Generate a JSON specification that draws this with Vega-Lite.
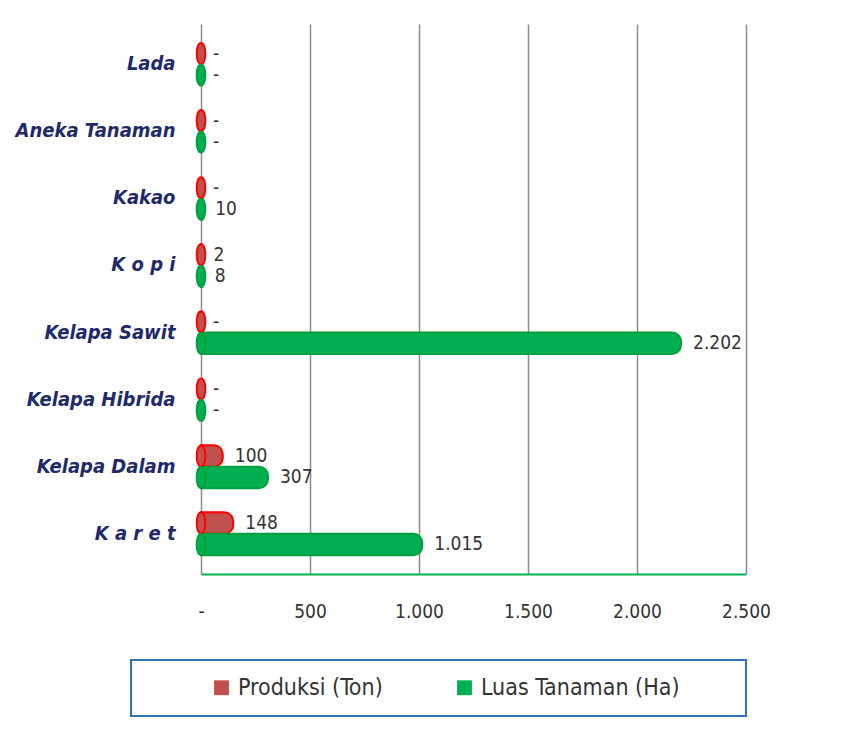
{
  "$schema": "https://vega.github.io/schema/vega-lite/v6.json",
  "width": 545,
  "height": 550,
  "padding": {"left": 15, "top": 24, "right": 10, "bottom": 10},
  "background": "white",
  "data": {
    "values": [
      {"kategori": "Lada", "seri": "Produksi  (Ton)", "nilai": 0},
      {"kategori": "Lada", "seri": "Luas Tanaman  (Ha)", "nilai": 0},
      {"kategori": "Aneka Tanaman", "seri": "Produksi  (Ton)", "nilai": 0},
      {"kategori": "Aneka Tanaman", "seri": "Luas Tanaman  (Ha)", "nilai": 0},
      {"kategori": "Kakao", "seri": "Produksi  (Ton)", "nilai": 0},
      {"kategori": "Kakao", "seri": "Luas Tanaman  (Ha)", "nilai": 10},
      {"kategori": "K o p i", "seri": "Produksi  (Ton)", "nilai": 2},
      {"kategori": "K o p i", "seri": "Luas Tanaman  (Ha)", "nilai": 8},
      {"kategori": "Kelapa Sawit", "seri": "Produksi  (Ton)", "nilai": 0},
      {"kategori": "Kelapa Sawit", "seri": "Luas Tanaman  (Ha)", "nilai": 2202},
      {"kategori": "Kelapa Hibrida", "seri": "Produksi  (Ton)", "nilai": 0},
      {"kategori": "Kelapa Hibrida", "seri": "Luas Tanaman  (Ha)", "nilai": 0},
      {"kategori": "Kelapa Dalam", "seri": "Produksi  (Ton)", "nilai": 100},
      {"kategori": "Kelapa Dalam", "seri": "Luas Tanaman  (Ha)", "nilai": 307},
      {"kategori": "K a r e t", "seri": "Produksi  (Ton)", "nilai": 148},
      {"kategori": "K a r e t", "seri": "Luas Tanaman  (Ha)", "nilai": 1015}
    ]
  },
  "encoding": {
    "y": {
      "field": "kategori",
      "type": "nominal",
      "sort": ["Lada", "Aneka Tanaman", "Kakao", "K o p i", "Kelapa Sawit", "Kelapa Hibrida", "Kelapa Dalam", "K a r e t"],
      "scale": {"paddingInner": 0.36, "paddingOuter": 0.28},
      "axis": {
        "title": null,
        "domain": false,
        "ticks": false,
        "labelFont": "DejaVu Sans Condensed, Liberation Sans",
        "labelFontSize": 20,
        "labelFontWeight": "bold",
        "labelFontStyle": "italic",
        "labelColor": "#1F2A6B",
        "labelPadding": 26,
        "labelLimit": 300
      }
    },
    "yOffset": {
      "field": "seri",
      "type": "nominal",
      "sort": ["Produksi  (Ton)", "Luas Tanaman  (Ha)"]
    }
  },
  "layer": [
    {
      "mark": {"type": "bar", "cornerRadiusEnd": 9, "strokeWidth": 2},
      "encoding": {
        "x": {
          "field": "nilai",
          "type": "quantitative",
          "scale": {"domain": [0, 2500], "nice": false},
          "axis": {
            "title": null,
            "values": [0, 500, 1000, 1500, 2000, 2500],
            "labelExpr": "datum.value == 0 ? '-' : replace(format(datum.value, ','), ',', '.')",
            "labelFont": "DejaVu Sans Condensed, Liberation Sans",
            "labelFontSize": 19,
            "labelColor": "#333333",
            "labelPadding": 28,
            "labelFlush": false,
            "labelOverlap": false,
            "ticks": false,
            "domain": true,
            "domainColor": "#00B050",
            "domainWidth": 2,
            "grid": true,
            "gridColor": "#8C8C8C",
            "gridWidth": 1.5
          }
        },
        "color": {
          "field": "seri",
          "type": "nominal",
          "sort": ["Produksi  (Ton)", "Luas Tanaman  (Ha)"],
          "scale": {"range": ["#C0504D", "#00B050"]},
          "legend": {
            "title": "\u00a0",
            "titleOrient": "right",
            "titlePadding": 44,
            "titleFontSize": 20,
            "orient": "none",
            "legendX": -70,
            "legendY": 636,
            "direction": "horizontal",
            "symbolType": "square",
            "symbolSize": 220,
            "symbolOffset": 63,
            "labelOffset": 5,
            "labelFont": "DejaVu Sans Condensed, Liberation Sans",
            "labelFontSize": 23,
            "labelColor": "#333333",
            "labelLimit": 400,
            "columnPadding": 0,
            "padding": 16,
            "strokeColor": "#2E75B6",
            "encode": {"legend": {"update": {"strokeWidth": {"value": 2}}}}
          }
        },
        "stroke": {
          "field": "seri",
          "type": "nominal",
          "sort": ["Produksi  (Ton)", "Luas Tanaman  (Ha)"],
          "scale": {"range": ["#FF0000", "#00A040"]},
          "legend": null
        }
      }
    },
    {
      "mark": {
        "type": "point",
        "filled": true,
        "size": 440,
        "shape": "M0,-1 C0.55,-1 0.55,1 0,1 C-0.55,1 -0.55,-1 0,-1 Z",
        "opacity": 1
      },
      "encoding": {
        "x": {"datum": 0, "type": "quantitative"},
        "color": {"field": "seri", "type": "nominal", "sort": ["Produksi  (Ton)", "Luas Tanaman  (Ha)"], "legend": null},
        "stroke": {"field": "seri", "type": "nominal", "sort": ["Produksi  (Ton)", "Luas Tanaman  (Ha)"], "legend": null}
      }
    },
    {
      "mark": {
        "type": "text",
        "align": "left",
        "baseline": "middle",
        "dx": 12,
        "font": "DejaVu Sans Condensed, Liberation Sans",
        "fontSize": 19,
        "color": "#333333",
        "text": {"expr": "datum.nilai == 0 ? '-' : replace(format(datum.nilai, ','), ',', '.')"}
      },
      "encoding": {
        "x": {"field": "nilai", "type": "quantitative"}
      }
    }
  ],
  "resolve": {"scale": {"color": "shared", "stroke": "shared"}},
  "config": {
    "view": {"stroke": null},
    "legend": {"symbolStrokeWidth": 0}
  }
}
